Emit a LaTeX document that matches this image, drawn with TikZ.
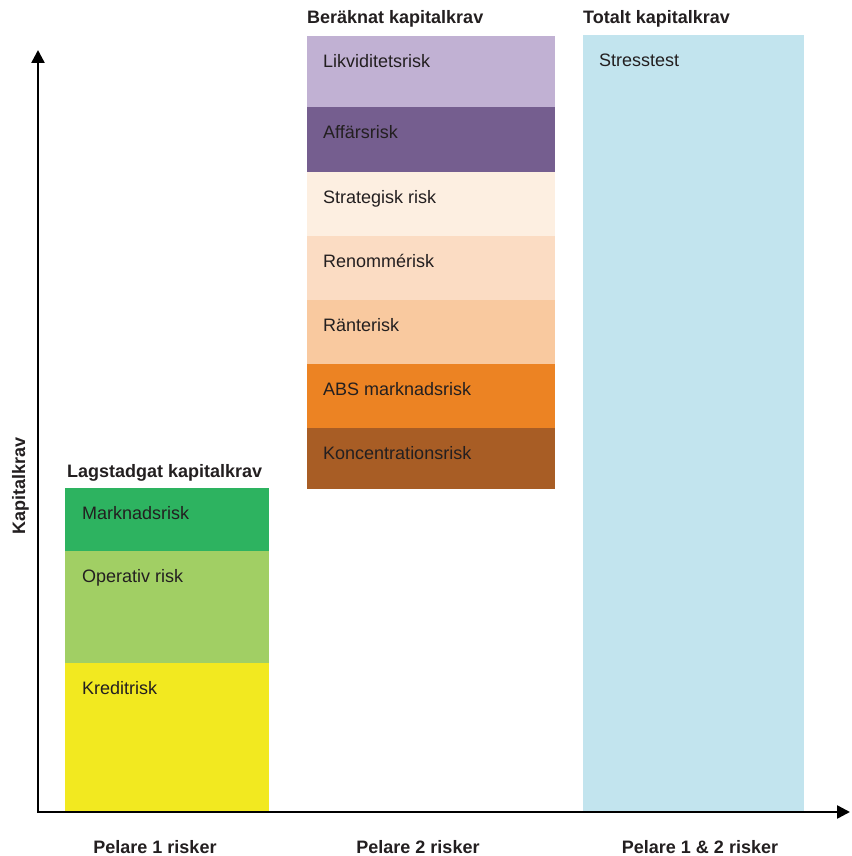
\documentclass[tikz,border=0pt]{standalone}
\usepackage{fontspec}
\setmainfont{Liberation Sans}
\usetikzlibrary{arrows.meta}

% colours of the risk boxes
\definecolor{textgray}{HTML}{231F20}
\definecolor{marknad}{HTML}{2DB360}
\definecolor{operativ}{HTML}{A1CF64}
\definecolor{kredit}{HTML}{F2E920}
\definecolor{likvid}{HTML}{C1B1D3}
\definecolor{affar}{HTML}{755E8F}
\definecolor{strateg}{HTML}{FDEFE1}
\definecolor{renomme}{HTML}{FBDCC3}
\definecolor{ranta}{HTML}{F9C99F}
\definecolor{absmark}{HTML}{EC8323}
\definecolor{koncent}{HTML}{A85D25}
\definecolor{stress}{HTML}{C2E4EE}

\begin{document}
\begin{tikzpicture}[x=1pt,y=-1pt,
    riskbox/.style={rectangle, inner sep=0pt, draw=none, anchor=north west},
    risktext/.style={anchor=base west, inner sep=0pt, text=textgray, font=\fontsize{18}{21}\selectfont},
    heading/.style={anchor=base west, inner sep=0pt, text=textgray, font=\fontsize{18}{21}\selectfont\bfseries},
    pillar/.style={anchor=base, inner sep=0pt, text=textgray, font=\fontsize{18}{21}\selectfont\bfseries},
    axis/.style={line width=2.5pt, {Triangle[length=13pt,width=13pt]}-{Triangle[length=13pt,width=13pt]}}]
    \useasboundingbox (0,0) rectangle (851,856);

    % Pelare 1 (lagstadgat)
    \node[heading] (lag) at (67,477) {Lagstadgat kapitalkrav};
    \foreach \nm/\tp/\bt/\col/\txt in {mark/488/551/marknad/Marknadsrisk,
        oper/551/663/operativ/Operativ risk, kred/663/811/kredit/Kreditrisk} {
        \node[riskbox, fill=\col, minimum width=204pt, minimum height={(\bt-\tp)*1pt}] (\nm) at (65,\tp) {};
        \node[risktext] (\nm-t) at (82,\tp+31.5) {\txt};
    }

    % Pelare 2 (beraknat)
    \node[heading] (ber) at (307,24) {Beräknat kapitalkrav};
    \foreach \nm/\tp/\bt/\col/\txt in {likv/36/107/likvid/Likviditetsrisk,
        affa/107/172/affar/Affärsrisk, strat/172/236/strateg/Strategisk risk,
        reno/236/300/renomme/Renommérisk, rant/300/364/ranta/Ränterisk,
        abs/364/428/absmark/ABS marknadsrisk, konc/428/489/koncent/Koncentrationsrisk} {
        \node[riskbox, fill=\col, minimum width=248pt, minimum height={(\bt-\tp)*1pt}] (\nm) at (307,\tp) {};
        \node[risktext] (\nm-t) at (323,\tp+31.5) {\txt};
    }

    % Pelare 1 & 2 (totalt)
    \node[heading] (tot) at (583,24) {Totalt kapitalkrav};
    \node[riskbox, fill=stress, minimum width=221pt, minimum height=776pt] (stre) at (583,35) {};
    \node[risktext] (stre-t) at (599,66.5) {Stresstest};

    % axes
    \coordinate (origin) at (38,812);
    \coordinate (ytop) at (38,50);
    \coordinate (xend) at (850,812);
    \draw[axis] (ytop) -- (origin) -- (xend);
    \node[pillar, rotate=90] (ylab) at (25,486) {Kapitalkrav};
    \node[pillar] (p1) at (155,853) {Pelare 1 risker};
    \node[pillar] (p2) at (418,853) {Pelare 2 risker};
    \node[pillar] (p12) at (700,853) {Pelare 1 \& 2 risker};
\end{tikzpicture}
\end{document}
